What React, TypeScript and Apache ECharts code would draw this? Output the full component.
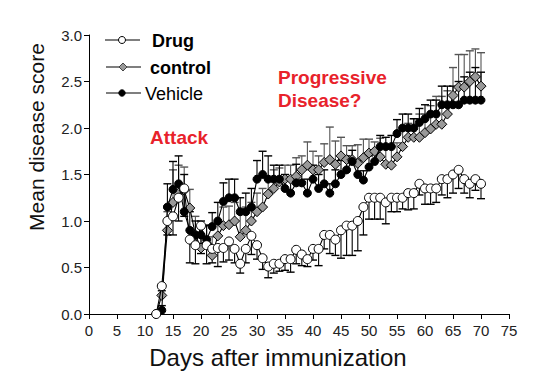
import React, { useEffect, useRef } from "react";
import * as echarts from "echarts";

const days = [12,13,14,15,16,17,18,19,20,21,22,23,24,25,26,27,28,29,30,31,32,33,34,35,36,37,38,39,40,41,42,43,44,45,46,47,48,49,50,51,52,53,54,55,56,57,58,59,60,61,62,63,64,65,66,67,68,69,70];

const drug = [0,0.3,1.0,1.05,1.25,1.35,0.8,0.74,0.95,0.74,0.7,0.71,0.71,0.78,0.7,0.54,0.7,0.84,0.74,0.6,0.51,0.54,0.54,0.59,0.59,0.69,0.64,0.59,0.7,0.7,0.85,0.85,0.8,0.9,0.95,0.95,1.0,1.15,1.25,1.25,1.25,1.2,1.25,1.25,1.25,1.3,1.3,1.4,1.35,1.35,1.35,1.45,1.45,1.5,1.55,1.45,1.4,1.45,1.4];
const drugErr = [0,0.05,0.15,0.2,0.25,0.3,0.25,0.2,0.3,0.2,0.15,0.2,0.15,0.2,0.15,0.1,0.15,0.2,0.15,0.12,0.12,0.1,0.08,0.12,0.14,0.15,0.12,0.08,0.12,0.18,0.15,0.2,0.17,0.3,0.32,0.32,0.32,0.3,0.23,0.23,0.23,0.23,0.15,0.15,0.12,0.18,0.17,0.12,0.17,0.17,0.15,0.17,0.2,0.2,0.2,0.15,0.15,0.12,0.16];

const control = [0,0.2,0.9,1.2,1.3,1.33,1.14,0.85,0.71,0.76,0.63,0.84,0.95,0.96,1.0,0.83,0.9,1.0,1.1,1.15,1.29,1.35,1.42,1.45,1.45,1.48,1.55,1.6,1.55,1.55,1.63,1.66,1.61,1.7,1.66,1.66,1.62,1.68,1.73,1.75,1.69,1.61,1.6,1.69,1.8,1.9,1.9,1.9,1.95,1.99,2.04,2.04,2.15,2.35,2.44,2.44,2.5,2.55,2.45];
const controlErr = [0,0.1,0.2,0.35,0.3,0.25,0.2,0.2,0.15,0.2,0.2,0.15,0.2,0.2,0.2,0.25,0.25,0.2,0.2,0.2,0.15,0.2,0.15,0.15,0.15,0.2,0.15,0.25,0.2,0.15,0.2,0.35,0.25,0.2,0.15,0.15,0.2,0.2,0.15,0.1,0.2,0.2,0.2,0.15,0.2,0.15,0.2,0.25,0.2,0.25,0.3,0.3,0.25,0.3,0.35,0.35,0.33,0.3,0.36];

const vehicle = [0,0.04,1.15,1.34,1.4,1.1,0.9,0.85,0.85,0.8,0.94,1.0,1.21,1.25,1.25,1.1,1.1,1.15,1.45,1.5,1.45,1.45,1.45,1.35,1.3,1.41,1.41,1.3,1.45,1.35,1.4,1.3,1.4,1.5,1.55,1.64,1.5,1.44,1.58,1.64,1.8,1.8,1.8,1.94,2.0,2.0,2.0,2.06,2.1,2.15,2.15,2.25,2.25,2.25,2.25,2.3,2.3,2.3,2.3];
const vehicleErr = [0,0.05,0.25,0.3,0.3,0.4,0.2,0.15,0.15,0.15,0.15,0.2,0.2,0.2,0.2,0.15,0.2,0.2,0.2,0.25,0.25,0.15,0.15,0.15,0.15,0.2,0.15,0.15,0.15,0.15,0.15,0.1,0.15,0.15,0.15,0.12,0.15,0.1,0.12,0.12,0.12,0.1,0.12,0.15,0.15,0.15,0.1,0.15,0.15,0.15,0.15,0.2,0.2,0.2,0.25,0.25,0.3,0.35,0.3];

const FONT = "Liberation Sans, Arial, sans-serif";

function errSeries(vals: number[], errs: number[], dir: number, color: string, z: number) {
  return {
    type: "custom",
    z,
    silent: true,
    data: days.map((d, i) => [d, vals[i], errs[i]]),
    renderItem: (params: any, api: any) => {
      const x = api.value(0);
      const y = api.value(1);
      const e = api.value(2);
      if (!e) return { type: "group", children: [] };
      const p0 = api.coord([x, y]);
      const p1 = api.coord([x, y + dir * e]);
      const w = 4;
      return {
        type: "group",
        children: [
          { type: "line", shape: { x1: p0[0], y1: p0[1], x2: p1[0], y2: p1[1] }, style: { stroke: color, lineWidth: 1.1 } },
          { type: "line", shape: { x1: p1[0] - w, y1: p1[1], x2: p1[0] + w, y2: p1[1] }, style: { stroke: color, lineWidth: 1.4 } },
        ],
      };
    },
  };
}

function lineSeries(name: string, vals: number[], symbol: string, size: number, fill: string, z: number) {
  return {
    name,
    type: "line",
    z,
    data: days.map((d, i) => [d, vals[i]]),
    symbol,
    symbolSize: size,
    showAllSymbol: true,
    lineStyle: { color: "#000", width: 1.1 },
    itemStyle: { color: fill, borderColor: "#000", borderWidth: 1 },
    emphasis: { disabled: true },
  };
}

export default function App() {
  const ref = useRef<HTMLDivElement>(null);
  useEffect(() => {
    if (!ref.current) return;
    const chart = echarts.init(ref.current, null, { renderer: "svg" });
    const legendY = [40, 67, 93];
    const red = "#E8222B";
    chart.setOption({
      animation: false,
      backgroundColor: "#fff",
      grid: { left: 89, right: 31, top: 35, bottom: 76, containLabel: false },
      xAxis: {
        type: "value",
        min: 0,
        max: 75,
        interval: 5,
        splitLine: { show: false },
        axisLine: { show: true, lineStyle: { color: "#000", width: 1 } },
        axisTick: { show: true, length: 5, lineStyle: { color: "#000" } },
        axisLabel: { color: "#222", fontSize: 15, fontFamily: FONT, margin: 9 },
      },
      yAxis: {
        type: "value",
        min: 0,
        max: 3,
        interval: 0.5,
        splitLine: { show: false },
        axisLine: { show: true, lineStyle: { color: "#000", width: 1 } },
        axisTick: { show: true, length: 5, lineStyle: { color: "#000" } },
        axisLabel: { color: "#222", fontSize: 15, fontFamily: FONT, margin: 7, formatter: (v: number) => v.toFixed(1) },
      },
      series: [
        errSeries(control, controlErr, 1, "#555", 1),
        errSeries(vehicle, vehicleErr, 1, "#000", 1),
        errSeries(drug, drugErr, -1, "#000", 1),
        lineSeries("control", control, "diamond", 10, "#999", 3),
        lineSeries("Vehicle", vehicle, "circle", 8, "#000", 4),
        lineSeries("Drug", drug, "circle", 9, "#fff", 5),
      ],
      graphic: [
        // legend
        { type: "line", shape: { x1: 105, y1: legendY[0], x2: 140, y2: legendY[0] }, style: { stroke: "#000", lineWidth: 1.1 } },
        { type: "circle", shape: { cx: 122, cy: legendY[0], r: 3.5 }, style: { fill: "#fff", stroke: "#000", lineWidth: 1 } },
        { type: "text", x: 152, y: legendY[0] + 1, style: { text: "Drug", font: "bold 18px " + FONT, fill: "#000", verticalAlign: "middle" } },
        { type: "line", shape: { x1: 106, y1: legendY[1], x2: 141, y2: legendY[1] }, style: { stroke: "#000", lineWidth: 1.1 } },
        { type: "polygon", shape: { points: [[123, legendY[1] - 4], [127, legendY[1]], [123, legendY[1] + 4], [119, legendY[1]]] }, style: { fill: "#999", stroke: "#444", lineWidth: 1 } },
        { type: "text", x: 150, y: legendY[1] + 1, style: { text: "control", font: "bold 18px " + FONT, fill: "#000", verticalAlign: "middle" } },
        { type: "line", shape: { x1: 106, y1: legendY[2], x2: 141, y2: legendY[2] }, style: { stroke: "#000", lineWidth: 1.1 } },
        { type: "circle", shape: { cx: 122, cy: legendY[2], r: 3.2 }, style: { fill: "#000", stroke: "#000", lineWidth: 1 } },
        { type: "text", x: 145, y: legendY[2] + 1, style: { text: "Vehicle", font: "18px " + FONT, fill: "#000", verticalAlign: "middle" } },
        // annotations
        { type: "text", x: 150, y: 137, style: { text: "Attack", font: "bold 19px " + FONT, fill: red, verticalAlign: "middle" } },
        { type: "text", x: 278, y: 77, style: { text: "Progressive", font: "bold 19px " + FONT, fill: red, verticalAlign: "middle" } },
        { type: "text", x: 278, y: 100, style: { text: "Disease?", font: "bold 19px " + FONT, fill: red, verticalAlign: "middle" } },
        // axis titles
        { type: "text", x: 278, y: 357, style: { text: "Days after immunization", font: "24px " + FONT, fill: "#111", align: "center", verticalAlign: "middle" } },
        { type: "text", x: 36, y: 137, rotation: Math.PI / 2, style: { text: "Mean disease score", font: "21px " + FONT, fill: "#111", align: "center", verticalAlign: "middle" } },
      ],
    });
    return () => chart.dispose();
  }, []);
  return <div ref={ref} style={{ width: 540, height: 390, position: "absolute", left: 0, top: 0 }} />;
}
